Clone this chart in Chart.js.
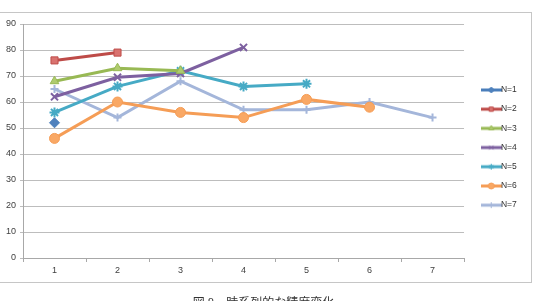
<!DOCTYPE html>
<html><head><meta charset="utf-8">
<script src="https://cdn.jsdelivr.net/npm/chart.js@4/dist/chart.umd.min.js"></script>
<style>
html,body{margin:0;padding:0;background:#fff;width:537px;height:301px;overflow:hidden;}
#frame{position:absolute;left:-2px;top:12px;width:534px;height:271px;border:1px solid #c6c6c6;box-sizing:border-box;}
#wrap{position:absolute;left:0;top:0;width:537px;height:301px;}
#cap{position:absolute;left:-5px;width:537px;top:295px;text-align:center;font:12px "Noto Sans CJK JP";color:#333;line-height:13px;white-space:nowrap;}
</style></head>
<body>
<div id="frame"></div>
<div id="wrap"><canvas id="c"></canvas></div>
<div id="cap">図 8　時系列的な精度変化</div>
<script>
const categories = ['1','2','3','4','5','6','7'];
const seriesNames = ['N=1','N=2','N=3','N=4','N=5','N=6','N=7'];
const n1 = [52, null, null, null, null, null, null];
const n2 = [76, 79, null, null, null, null, null];
const n3 = [68, 73, 72, null, null, null, null];
const n4 = [62, 69.5, 71, 81, null, null, null];
const n5 = [56, 66, 72, 66, 67, null, null];
const n6 = [46, 60, 56, 54, 61, 58, null];
const n7 = [65, 54, 68, 57, 57, 60, 54];
const yTicks = [0,10,20,30,40,50,60,70,80,90];

const seriesValues = [n1,n2,n3,n4,n5,n6,n7];
const lineColors = ['#4A7EBB','#BE4B48','#98B954','#7D60A0','#46AAC5','#F59D56','#A4B6DA'];
const fillColors = ['#4F81BD','#D9726F','#AFCB6E','#8C72AD','#5CBAD3','#F9A865','#B4C4E2'];
const pStyles = ['rectRot','rect','triangle','crossRot','star','circle','cross'];
const pRadius = [5,5,5,5,5,5,4];

function legendIcon(i){
  const cv = document.createElement('canvas');
  cv.width = 21; cv.height = 10;
  const g = cv.getContext('2d');
  g.strokeStyle = lineColors[i]; g.lineWidth = 3; g.lineCap='butt';
  g.beginPath(); g.moveTo(0,5); g.lineTo(21,5); g.stroke();
  g.fillStyle = fillColors[i]; g.strokeStyle = lineColors[i]; g.lineWidth = 1;
  Chart.helpers.drawPoint(g, {pointStyle:pStyles[i], radius:3, rotation:0, borderWidth:1}, 10.5, 5);
  return cv;
}

const datasets = seriesNames.map((name,i)=>({
  label: name,
  data: seriesValues[i],
  borderColor: lineColors[i],
  backgroundColor: fillColors[i],
  borderWidth: 3,
  pointStyle: pStyles[i],
  pointRadius: pRadius[i],
  pointBackgroundColor: fillColors[i],
  pointBorderColor: lineColors[i],
  pointBorderWidth: (pStyles[i]==='crossRot'||pStyles[i]==='star'||pStyles[i]==='cross') ? 2 : 1,
  tension: 0,
  spanGaps: false
}));

const legendShift = {
  id:'legendShift',
  afterLayout(chart){
    const lg = chart.legend;
    const w = lg.right - lg.left, h = lg.bottom - lg.top;
    lg.left = 475; lg.right = lg.left + w;
    lg.top = 75; lg.bottom = lg.top + h;
  }
};

new Chart(document.getElementById('c'), {
  type: 'line',
  data: { labels: categories, datasets },
  options: {
    responsive: true, maintainAspectRatio: false, animation: false,
    layout: { padding: { left: 0, top: 24, right: 21.2, bottom: 0 } },
    plugins: {
      tooltip: { enabled: false },
      legend: {
        position: 'right',
        align: 'start',
        labels: {
          usePointStyle: true,
          pointStyleWidth: 11,
          boxHeight: 10,
          padding: 10.7,
          color: '#333',
          font: { family: 'Liberation Sans', size: 8.5 },
          generateLabels(chart){
            const items = Chart.defaults.plugins.legend.labels.generateLabels(chart);
            items.forEach((it,i)=>{ it.pointStyle = legendIcon(i); });
            return items;
          }
        }
      }
    },
    scales: {
      x: {
        type: 'category',
        offset: true,
        grid: { offset: true, drawOnChartArea: false, drawTicks: true, tickLength: 4, color: '#a8a8a8' },
        border: { color: '#a8a8a8', width: 1 },
        ticks: { color: '#404040', font: { family: 'Liberation Sans', size: 9 }, padding: 3 },
        afterFit(s){ s.height = 43; }
      },
      y: {
        min: 0, max: 90,
        afterBuildTicks(s){ s.ticks = yTicks.map(v=>({value:v})); },
        grid: { color: '#bdbdbd', lineWidth: 1, tickLength: 3 },
        border: { color: '#a8a8a8', width: 1 },
        ticks: { color: '#404040', font: { family: 'Liberation Sans', size: 9 }, padding: 4 },
        afterFit(s){ s.width = 23; }
      }
    }
  },
  plugins: [legendShift]
});
</script>
</body></html>
